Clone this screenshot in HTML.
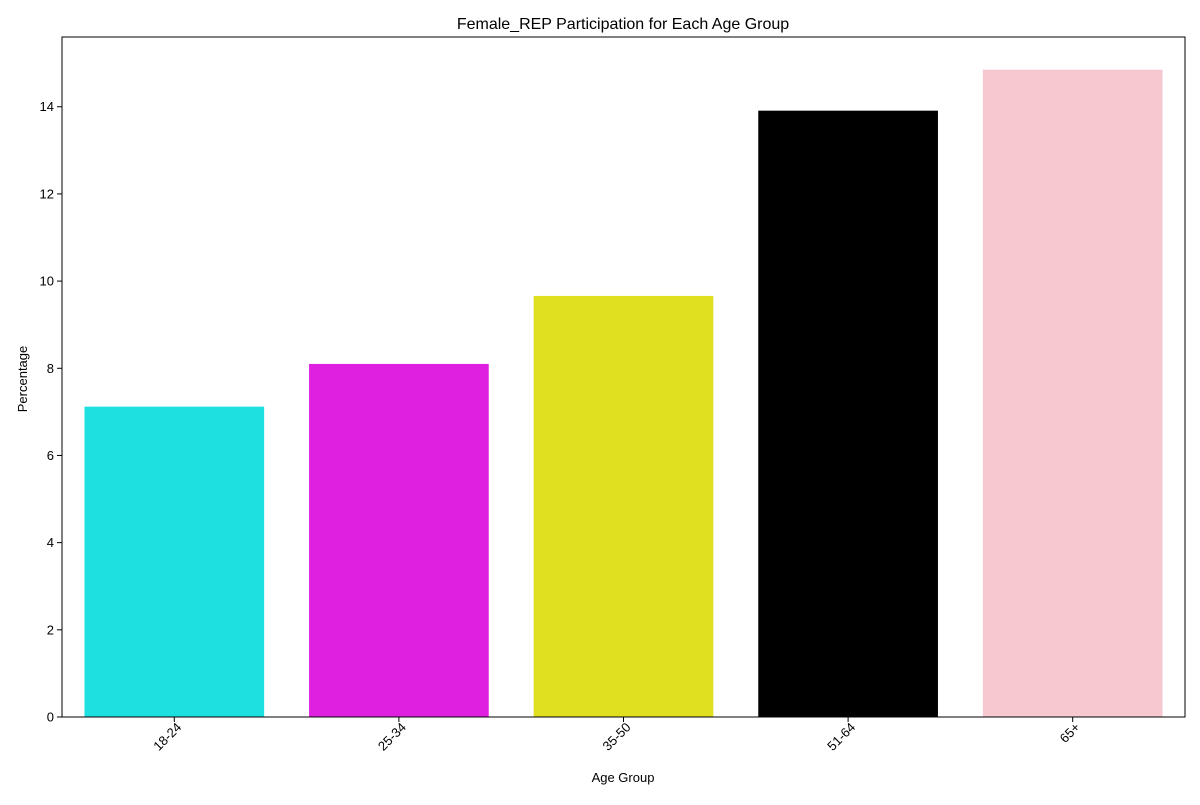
<!DOCTYPE html>
<html><head><meta charset="utf-8"><style>
body{margin:0;background:#fff}
svg text{font-family:"Liberation Sans","DejaVu Sans",sans-serif;fill:#000}
</style></head><body>
<svg id="chart" width="1200" height="800">
<text x="623" y="29" font-size="16" text-anchor="middle">Female_REP Participation for Each Age Group</text>
<text x="623" y="782" font-size="13" text-anchor="middle">Age Group</text>
<text transform="translate(27,379) rotate(-90)" font-size="13" text-anchor="middle">Percentage</text>
<g id="bars"></g><g id="axes"></g>
</svg>
<script>
const categories=["18-24","25-34","35-50","51-64","65+"];
const values=[7.12,8.10,9.66,13.91,14.85];
const colors=["#1fe0e0","#e020e0","#e0e020","#000000","#f6c8d0"];
const yTicks=[0,2,4,6,8,10,12,14];
const L=62,R=1185,T=37,B=717,yMax=15.6;
const ns="http://www.w3.org/2000/svg";
const y=v=>B-(B-T)*v/yMax;
const band=(R-L)/categories.length;
const xc=i=>L+band*(i+0.5);
const bars=document.getElementById('bars'),axes=document.getElementById('axes');
function mk(t,a,p){const e=document.createElementNS(ns,t);for(const k in a)e.setAttribute(k,a[k]);p.appendChild(e);return e;}
categories.forEach((c,i)=>{
 const w=band*0.8;
 const r=mk('rect',{x:xc(i)-w/2,y:y(values[i]),width:w,height:B-y(values[i]),fill:colors[i]},bars);
 
 
 const tk=mk('line',{x1:xc(i),x2:xc(i),y1:B,y2:B+5,stroke:'#000'},axes);
 
 
 const t=mk('text',{'font-size':13,'text-anchor':'end',transform:`translate(${xc(i)+8},${B+11}) rotate(-45)`},axes);
 t.textContent=c;
 
 
});
yTicks.forEach(v=>{
 const tk=mk('line',{x1:L-5,x2:L,y1:y(v),y2:y(v),stroke:'#000'},axes);
 
 
 const t=mk('text',{x:L-8,y:y(v)+4.5,'font-size':13,'text-anchor':'end'},axes);
 t.textContent=v;
 
 
});
const f=mk('rect',{x:L,y:T,width:R-L,height:B-T,fill:'none',stroke:'#000','stroke-width':1},axes);


</script>
</body></html>
